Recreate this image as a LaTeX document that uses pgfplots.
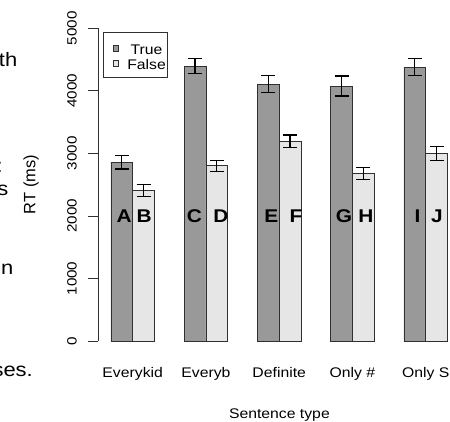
\documentclass[border=0pt]{standalone}
\usepackage{fontspec}
\setmainfont{Liberation Sans}[FakeStretch=1.13]
\newfontfamily\rotfont{Liberation Sans}
\usepackage{pgfplots}
\pgfplotsset{compat=1.18}
\usepackage{pgfplotstable}

\definecolor{trueC}{HTML}{999999}
\definecolor{falseC}{HTML}{E6E6E6}
\definecolor{edge}{HTML}{303030}

\pgfplotstableread{
idx T Terr F Ferr
0 2860 110 2410 96
1 4397 117 2800 90
2 4109 133 3193 100
3 4077 160 2681 93
4 4381 140 3000 115
}\data

\begin{document}
\begin{tikzpicture}[x=1bp,y=1bp]
\path[use as bounding box] (0,0) rectangle (450,421);
\clip (0,0) rectangle (450,421);
\begin{axis}[
  at={(98bp,80bp)}, anchor=south west,
  scale only axis, width=352bp, height=312.7bp,
  xmin=-0.4737, xmax=4.332, ymin=0, ymax=5000,
  clip=false,
  axis y line=left, y axis line style={-, edge, line width=0.8bp},
  axis x line=bottom, x axis line style={draw=none},
  xtick={0,...,4}, xticklabels={Everykid,Everyb,Definite,Only \#,Only S},
  xtick style={draw=none},
  ytick={0,1000,2000,3000,4000,5000},
  yticklabels={0,1000,2000,3000,4000,5000},
  tick align=outside, major tick length=10bp,
  ytick style={edge, line width=0.8bp},
  yticklabel shift=11bp,
  yticklabel style={font=\rotfont\fontsize{13.5}{13.5}\selectfont, rotate=90, anchor=south, inner sep=0pt, xscale=1.13},
  xticklabel style={font=\fontsize{14}{14}\selectfont, anchor=base, inner sep=0pt, yshift=-26bp},
  ybar, bar width=0.2966,
  legend style={at={(axis description cs:0.0134,0.987)}, anchor=north west,
    draw=edge, line width=0.8bp, font=\fontsize{14}{14}\selectfont,
    inner xsep=2bp, inner ysep=7.6bp, row sep=0pt, column sep=9bp,
    nodes={inner sep=0pt, text height=14bp, text depth=0.7bp, anchor=base}},
  legend cell align=left,
  legend image code/.code={\path (0bp,0bp); \draw[#1, draw=edge, line width=0.6bp] (7.5bp,3bp) rectangle (12.5bp,9bp);},
  error bars/error mark=|,
  error bars/error bar style={line width=1.2bp, black},
  error bars/error mark options={line width=1.2bp, mark size=7bp, black},
]
\addplot[fill=trueC, draw=edge, line width=0.8bp, bar shift=-0.1483,
  error bars/.cd, y dir=both, y explicit]
  table[x=idx, y=T, y error=Terr]{\data};
\addlegendentry{True}
\addplot[fill=falseC, draw=edge, line width=0.8bp, bar shift=0.1483,
  error bars/.cd, y dir=both, y explicit]
  table[x=idx, y=F, y error=Ferr]{\data};
\addlegendentry{False}
\end{axis}
% bar letters
\begin{scope}[every node/.style={font=\bfseries\fontsize{18.5}{18.5}\selectfont, anchor=base, inner sep=0pt}]
\node at (124.2,198.3) {A};
\node at (144.2,198.3) {B};
\node at (194.5,198.3) {C};
\node at (221,198.3) {D};
\node at (271.3,198.3) {E};
\node at (296,198.3) {F};
\node at (344,198.3) {G};
\node at (366,198.3) {H};
\node at (417.5,198.3) {I};
\node at (437,198.3) {J};
\end{scope}
% axis titles
\node[font=\rotfont\fontsize{16.5}{16.5}\selectfont, rotate=90, inner sep=0pt] at (31,236.5) {RT (ms)};
\node[font=\fontsize{14}{14}\selectfont, anchor=base, inner sep=0pt] at (279.4,2.7) {Sentence type};
% cut-off slide text at the left edge
\begin{scope}[every node/.style={font=\fontsize{19.5}{19.5}\selectfont, anchor=base east, inner sep=0pt}]
\node at (17.5,354.3) {th};
\node at (3,249) {:};
\node at (8.5,226) {s};
\node at (13.5,147) {on};
\node at (33,45) {ses.};
\end{scope}
\end{tikzpicture}
\end{document}
